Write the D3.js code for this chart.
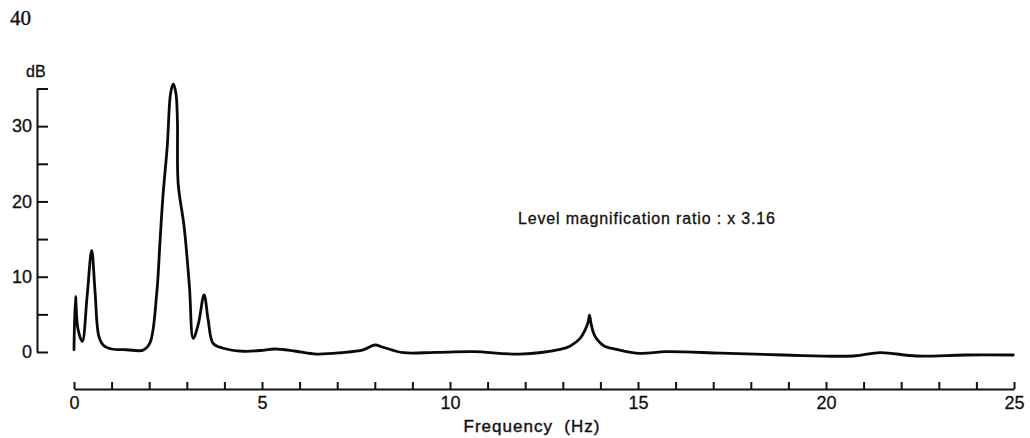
<!DOCTYPE html>
<html>
<head>
<meta charset="utf-8">
<script src="https://cdn.jsdelivr.net/npm/d3@7"></script>
<style>
  html, body { margin: 0; padding: 0; background: #fff; }
  svg { display: block; }
  text { fill: #111; }
</style>
</head>
<body>
<script>
// ---- data ----
const freq  = [0.00, 0.04, 0.10, 0.22, 0.35, 0.47, 0.56, 0.66, 0.78, 1.00, 1.40, 1.84, 2.02, 2.20, 2.29, 2.37, 2.48, 2.57, 2.64, 2.71, 2.75, 2.77, 2.93, 3.07, 3.17, 3.31, 3.46, 3.57, 3.70, 3.97, 4.50, 4.95, 5.35, 5.90, 6.45, 7.10, 7.69, 8.00, 8.23, 8.76, 9.60, 10.62, 11.86, 12.93, 13.20, 13.46, 13.60, 13.67, 13.71, 13.75, 13.82, 13.92, 14.10, 14.43, 15.05, 15.76, 17.20, 18.86, 20.73, 21.44, 22.41, 23.70, 24.98];
const level = [0.3, 7.4, 3.2, 1.4, 7.5, 13.5, 8.0, 2.1, 0.9, 0.4, 0.3, 0.25, 1.2, 7.8, 14.9, 21.0, 27.3, 34.4, 35.6, 34.4, 30.8, 22.4, 16.6, 8.7, 1.8, 3.8, 7.6, 4.2, 1.15, 0.5, 0.1, 0.2, 0.4, 0.1, -0.27, -0.1, 0.27, 0.93, 0.62, -0.09, -0.05, 0.04, -0.27, 0.35, 0.8, 1.8, 3.0, 3.9, 4.9, 3.8, 2.5, 1.6, 0.8, 0.35, -0.18, 0.04, -0.15, -0.4, -0.53, -0.09, -0.53, -0.4, -0.4];
const yTicks = [0, 5, 10, 15, 20, 25, 30, 35];
const yTickLabels = ["0", "", "10", "", "20", "", "30", ""];
const xTicks = d3.range(0, 26, 1);
const xLabelEvery = 5;
const pageNumber = "40";
const yUnit = "dB";
const xTitle = "Frequency  (Hz)";
const note = "Level magnification ratio : x 3.16";

// ---- layout ----
const W = 1030, H = 438;
const svg = d3.select("body").append("svg").attr("width", W).attr("height", H);

const x = d3.scaleLinear().domain([0, 25]).range([74, 1014]);
const y = d3.scaleLinear().domain([0, 35]).range([352, 88.5]);

const font = "'Liberation Sans', Arial, sans-serif";

// y axis
const yAxis = d3.axisLeft(y)
  .tickValues(yTicks)
  .tickFormat((d, i) => yTickLabels[i])
  .tickSizeInner(-11).tickSizeOuter(0).tickPadding(5);
const gy = svg.append("g").attr("transform", "translate(37,0)").call(yAxis);
gy.selectAll("path, line").attr("stroke", "#111").attr("stroke-width", 2);
gy.selectAll("text").attr("font-family", font).attr("font-size", 18).attr("fill", "#111")
  .attr("stroke", "#111").attr("stroke-width", 0.3);

// x axis
const xAxis = d3.axisBottom(x)
  .tickValues(xTicks)
  .tickFormat(d => d % xLabelEvery === 0 ? String(d) : "")
  .tickSizeInner(-7).tickSizeOuter(0).tickPadding(7);
const gx = svg.append("g").attr("transform", "translate(0,389)").call(xAxis);
gx.selectAll("path, line").attr("stroke", "#111").attr("stroke-width", 2);
gx.selectAll("text").attr("font-family", font).attr("font-size", 18).attr("fill", "#111")
  .attr("stroke", "#111").attr("stroke-width", 0.3);

// curve
const line = d3.line()
  .x((d, i) => x(freq[i]))
  .y((d, i) => y(level[i]))
  .curve(d3.curveCatmullRom.alpha(0.5));
svg.append("path")
  .datum(freq)
  .attr("d", line)
  .attr("fill", "none")
  .attr("stroke", "#0a0a0a")
  .attr("stroke-width", 2.8)
  .attr("stroke-linejoin", "round")
  .attr("stroke-linecap", "round");

// texts
svg.append("text").attr("x", 10).attr("y", 25)
  .attr("font-family", "'Liberation Serif', 'Times New Roman', serif")
  .attr("font-size", 21).attr("stroke", "#111").attr("stroke-width", 0.4)
  .text(pageNumber);

svg.append("text").attr("x", 26).attr("y", 77)
  .attr("font-family", font).attr("font-size", 16)
  .attr("stroke", "#111").attr("stroke-width", 0.3).text(yUnit);

svg.append("text").attr("x", 532).attr("y", 432)
  .attr("text-anchor", "middle")
  .attr("font-family", font).attr("font-size", 17)
  .attr("letter-spacing", 1).style("white-space", "pre")
  .attr("stroke", "#111").attr("stroke-width", 0.4)
  .text(xTitle);

svg.append("text").attr("x", 518).attr("y", 224)
  .attr("font-family", font).attr("font-size", 16)
  .attr("textLength", 257).attr("lengthAdjust", "spacing")
  .attr("stroke", "#111").attr("stroke-width", 0.3)
  .text(note);
</script>
</body>
</html>
